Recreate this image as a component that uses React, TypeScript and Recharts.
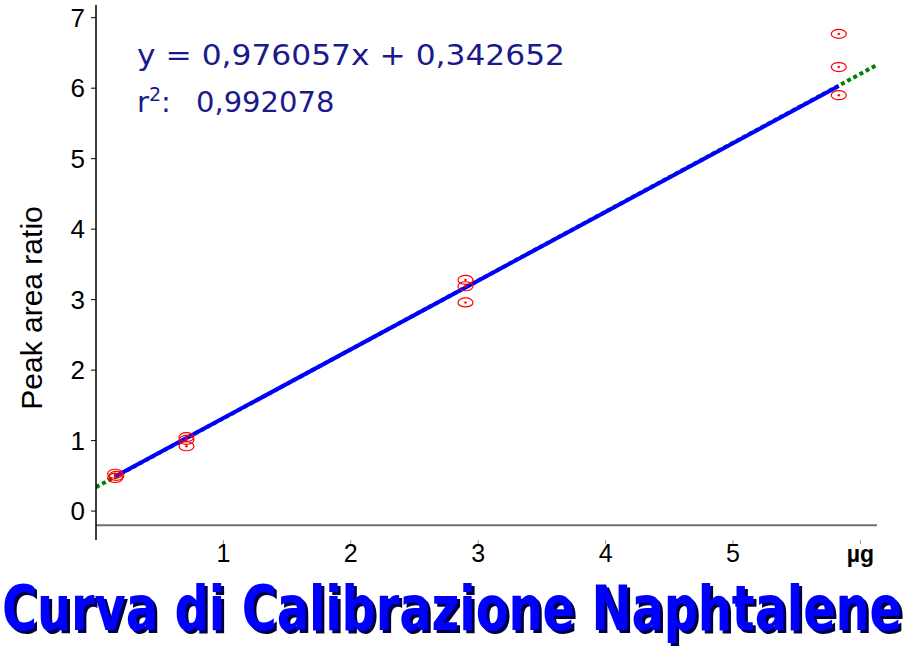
import {
  ComposedChart,
  Line,
  ReferenceLine,
  Scatter,
  XAxis,
  YAxis,
} from "recharts";

const level1 = [
  { x: 0.15, y: 0.53 },
  { x: 0.16, y: 0.5 },
  { x: 0.15, y: 0.47 },
];
const level2 = [
  { x: 0.71, y: 1.05 },
  { x: 0.71, y: 1.01 },
  { x: 0.71, y: 0.92 },
];
const level3 = [
  { x: 2.9, y: 3.28 },
  { x: 2.9, y: 3.19 },
  { x: 2.9, y: 2.96 },
];
const level4 = [
  { x: 5.83, y: 6.77 },
  { x: 5.83, y: 6.3 },
  { x: 5.83, y: 5.9 },
];
const points = [...level1, ...level2, ...level3, ...level4];

// regression line as drawn (solid part) and its dotted extension
const fitLine = [
  { x: 0.15, y: 0.49 },
  { x: 5.83, y: 6.03 },
];
const fitExtension = [
  { x: 0, y: 0.34 },
  { x: 6.13, y: 6.33 },
];

const xTicks = [1, 2, 3, 4, 5, 6];
const xTickLabels = ["1", "2", "3", "4", "5", "µg"];
const yTicks = [0, 1, 2, 3, 4, 5, 6, 7];

const equation = "y = 0,976057x + 0,342652";
const rSquared = "0,992078";
const yLabel = "Peak area ratio";
const title = "Curva di Calibrazione Naphtalene";

const W = 914;
const H = 648;
const SANS = "'Liberation Sans', Arial, sans-serif";
const ROUND = "'DejaVu Sans', 'Noto Sans', sans-serif";
const TITLE_SCALE = 0.78;

function Marker(props: any) {
  const { cx, cy } = props;
  if (cx == null || cy == null) return null;
  return (
    <g>
      <ellipse cx={cx} cy={cy} rx={7.5} ry={4.5} fill="none" stroke="#ff0000" strokeWidth={1.2} />
      <circle cx={cx} cy={cy} r={1.2} fill="#ff0000" />
    </g>
  );
}

function XTick(props: any) {
  const { x, y, payload } = props;
  const i = xTicks.indexOf(payload.value);
  const label = xTickLabels[i] ?? String(payload.value);
  const unit = label === "µg";
  return (
    <text
      x={x}
      y={y + 16}
      textAnchor="middle"
      fontFamily={SANS}
      fontSize={unit ? 23 : 25}
      fontWeight={unit ? 700 : 400}
      fill="#000"
    >
      {label}
    </text>
  );
}

export default function App() {
  return (
    <div style={{ position: "absolute", left: 0, top: 0, width: W, height: H, background: "#fff", overflow: "hidden" }}>
      <ComposedChart
        width={W}
        height={H}
        margin={{ top: 5, right: 37, bottom: 0, left: 0 }}
      >
        <XAxis
          type="number"
          dataKey="x"
          domain={[0, 6.13]}
          ticks={xTicks}
          allowDataOverflow
          axisLine={false}
          tickLine={{ stroke: "#999" }}
          tickSize={4}
          tick={<XTick />}
          height={108}
        />
        <YAxis
          type="number"
          dataKey="y"
          domain={[-0.41, 7.18]}
          ticks={yTicks}
          allowDataOverflow
          width={96}
          axisLine={{ stroke: "#000", strokeWidth: 1.5 }}
          tickLine={{ stroke: "#000" }}
          tickSize={5}
          tick={{ fill: "#000", fontSize: 26, fontFamily: SANS, dx: -4 }}
        />
        <ReferenceLine
          segment={[
            { x: 0, y: -0.2 },
            { x: 6.13, y: -0.2 },
          ]}
          stroke="#6e6e6e"
          strokeWidth={2}
          ifOverflow="visible"
        />
        <Line
          data={fitExtension}
          dataKey="y"
          stroke="#008000"
          strokeWidth={4}
          strokeDasharray="4 3"
          dot={false}
          activeDot={false}
          isAnimationActive={false}
        />
        <Line
          data={fitLine}
          dataKey="y"
          stroke="#0000ff"
          strokeWidth={4}
          dot={false}
          activeDot={false}
          isAnimationActive={false}
        />
        <Scatter data={points} dataKey="y" shape={<Marker />} isAnimationActive={false} />
      </ComposedChart>
      <svg
        width={W}
        height={H}
        style={{ position: "absolute", left: 0, top: 0, pointerEvents: "none" }}
      >
        <defs>
          <filter id="titleShadow" x="-3%" y="-40%" width="106%" height="180%">
            <feDropShadow dx={3} dy={3} stdDeviation={0} floodColor="#000040" floodOpacity={1} />
          </filter>
        </defs>
        <text
          x={137}
          y={65}
          fontFamily={ROUND}
          fontSize={29}
          fill="#1a1a8c"
          textLength={428}
          lengthAdjust="spacingAndGlyphs"
        >
          {equation}
        </text>
        <text x={137} y={112} fontFamily={ROUND} fontSize={29} fill="#1a1a8c">
          <tspan>r</tspan>
          <tspan fontSize={19} dy={-11}>2</tspan>
          <tspan dy={11}>:</tspan>
          <tspan x={196}>{rSquared}</tspan>
        </text>
        <text
          transform="translate(42 308) rotate(-90)"
          textAnchor="middle"
          fontFamily={SANS}
          fontSize={30}
          fill="#000"
        >
          {yLabel}
        </text>
        <g filter="url(#titleShadow)">
          <text
            transform={`translate(2 630) scale(${TITLE_SCALE} 1)`}
            fontFamily="'DejaVu Sans Condensed', 'DejaVu Sans', sans-serif"
            fontWeight={700}
            fontSize={62}
            fill="#0000ff"
            textLength={900 / TITLE_SCALE}
            lengthAdjust="spacingAndGlyphs"
          >
            {title}
          </text>
        </g>
      </svg>
    </div>
  );
}
